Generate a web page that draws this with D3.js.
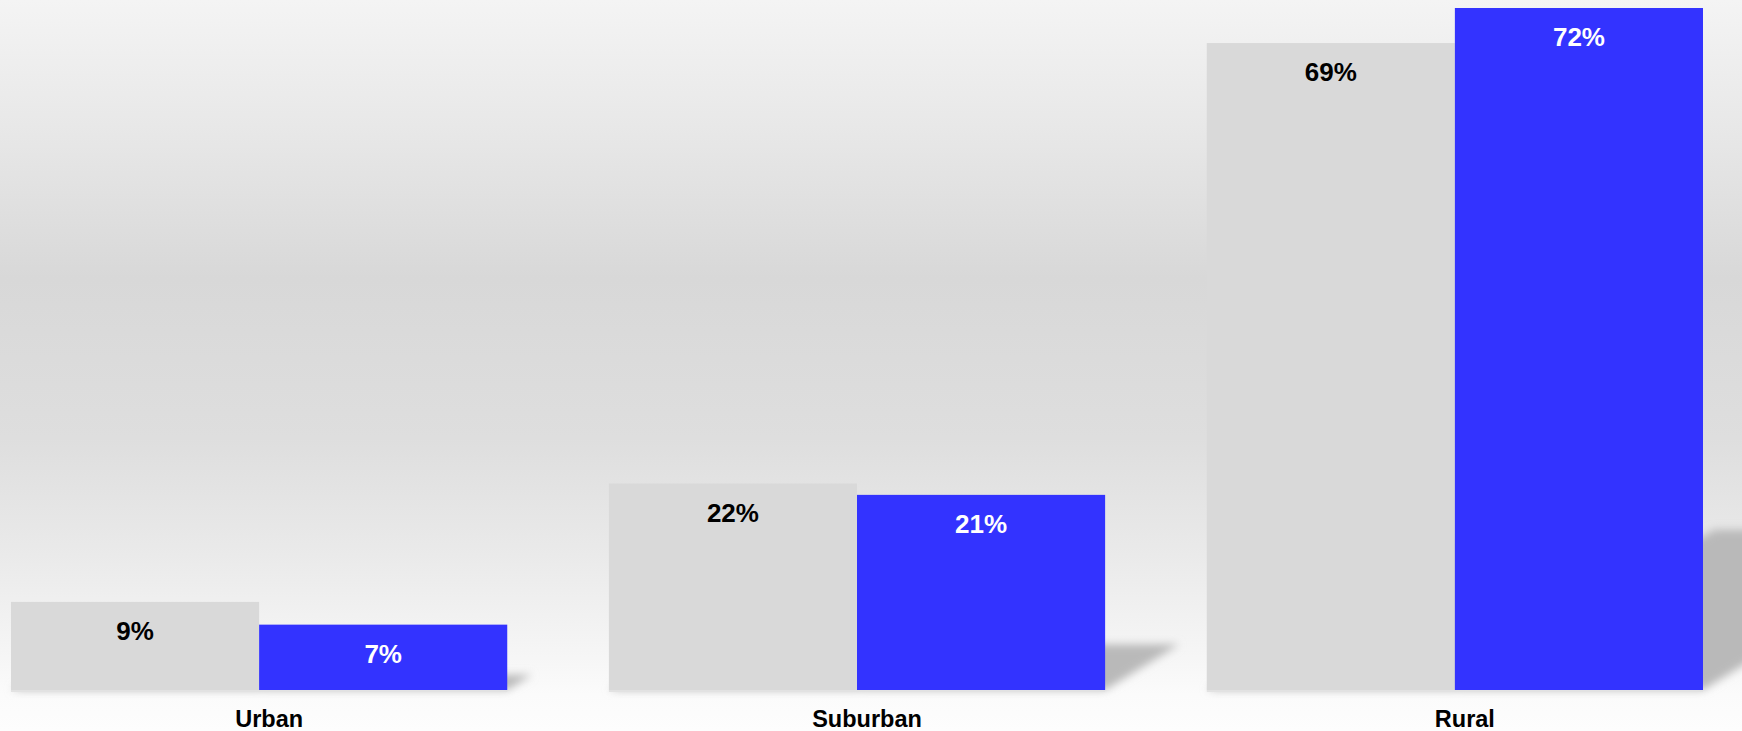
<!DOCTYPE html>
<html>
<head>
<meta charset="utf-8">
<script src="https://cdn.jsdelivr.net/npm/d3@7"></script>
<style>
  html, body { margin: 0; padding: 0; background: #ffffff; }
  svg { display: block; }
</style>
</head>
<body>
<script>
// ---- data ----
const categories = ["Urban", "Suburban", "Rural"];
const seriesNames = ["Series A", "Series B"];
const grayValues = [9.3, 21.8, 68.3];
const blueValues = [6.9, 20.6, 72.0];
const grayLabels = ["9%", "22%", "69%"];
const blueLabels = ["7%", "21%", "72%"];

const W = 1742, H = 731;
const svg = d3.select("body").append("svg").attr("width", W).attr("height", H);
const defs = svg.append("defs");

// background gradient
const grad = defs.append("linearGradient").attr("id", "bg").attr("x1", 0).attr("y1", 0).attr("x2", 0).attr("y2", 1);
[[0, "#f4f4f4"], [0.2, "#e6e6e6"], [0.38, "#d8d8d8"], [0.6, "#dedede"], [0.76, "#eaeaea"], [0.9, "#f6f6f6"], [0.95, "#fbfbfb"], [1, "#fdfdfd"]]
  .forEach(([o, c]) => grad.append("stop").attr("offset", o).attr("stop-color", c));
svg.append("rect").attr("width", W).attr("height", H).attr("fill", "url(#bg)");

// shadow blur
const f = defs.append("filter").attr("id", "blur").attr("x", "-20%").attr("y", "-50%").attr("width", "140%").attr("height", "200%");
f.append("feGaussianBlur").attr("stdDeviation", 4);

// scales
const x0 = d3.scaleBand().domain(categories).range([11, 1703]).paddingInner(0.17).paddingOuter(0);
const x1 = d3.scaleBand().domain(seriesNames).range([0, x0.bandwidth()]);
const y = d3.scaleLinear().domain([0, 72]).range([690, 8]);
const B = y(0);

const rows = categories.map((c, i) => ({
  cat: c,
  bars: [
    { s: seriesNames[0], v: grayValues[i], label: grayLabels[i], fill: "#d9d9d9", text: "#000000" },
    { s: seriesNames[1], v: blueValues[i], label: blueLabels[i], fill: "#3333ff", text: "#ffffff" }
  ]
}));

// perspective shadow: x' = x + a*(B-y), y' = B - s*(B-y)
const a = 0.38, s = 0.235;
const shadowOuter = svg.append("g").attr("filter", "url(#blur)");
const shadowG = shadowOuter.append("g")
  .attr("transform", `matrix(1,0,${-a},${s},${a * B},${(1 - s) * B})`);
rows.forEach(r => {
  r.bars.forEach(b => {
    shadowG.append("rect")
      .attr("x", x0(r.cat) + x1(b.s))
      .attr("y", y(b.v))
      .attr("width", x1.bandwidth())
      .attr("height", B - y(b.v))
      .attr("fill", "#b9b9b9");
  });
});

// thin soft line under bars
rows.forEach(r => {
  svg.append("rect")
    .attr("x", x0(r.cat))
    .attr("y", B)
    .attr("width", x0.bandwidth())
    .attr("height", 2)
    .attr("fill", "#e2e2e2");
});

// bars
const groups = svg.selectAll("g.grp").data(rows).enter().append("g")
  .attr("class", "grp")
  .attr("transform", d => `translate(${x0(d.cat)},0)`);

groups.selectAll("rect").data(d => d.bars).enter().append("rect")
  .attr("x", d => x1(d.s))
  .attr("y", d => y(d.v))
  .attr("width", x1.bandwidth())
  .attr("height", d => B - y(d.v))
  .attr("fill", d => d.fill);

groups.selectAll("text").data(d => d.bars).enter().append("text")
  .attr("x", d => x1(d.s) + x1.bandwidth() / 2)
  .attr("y", d => y(d.v) + 38)
  .attr("text-anchor", "middle")
  .attr("font-family", "'Liberation Sans', Arial, sans-serif")
  .attr("font-weight", "bold")
  .attr("font-size", "26px")
  .attr("fill", d => d.text)
  .text(d => d.label);

// category axis labels
svg.selectAll("text.cat").data(categories).enter().append("text")
  .attr("class", "cat")
  .attr("x", d => x0(d) + x0.bandwidth() / 2 + 10)
  .attr("y", 727)
  .attr("text-anchor", "middle")
  .attr("font-family", "'Liberation Sans', Arial, sans-serif")
  .attr("font-weight", "bold")
  .attr("font-size", "23.5px")
  .attr("fill", "#000000")
  .text(d => d);
</script>
</body>
</html>
